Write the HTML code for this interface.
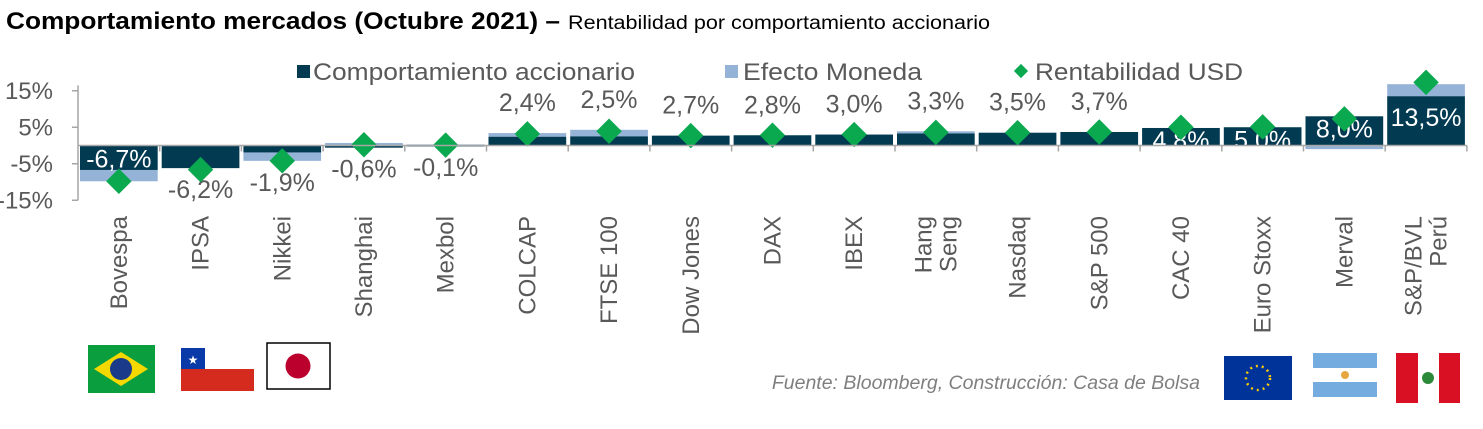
<!DOCTYPE html>
<html><head><meta charset="utf-8"><style>
body{margin:0;background:#fff;width:1483px;height:424px;overflow:hidden;font-family:"Liberation Sans",sans-serif}
</style></head><body>
<svg width="1483" height="424" xmlns="http://www.w3.org/2000/svg" font-family="Liberation Sans, sans-serif">
<text x="6" y="29" font-size="24" font-weight="bold" fill="#000" textLength="554" lengthAdjust="spacingAndGlyphs">Comportamiento mercados (Octubre 2021) –</text>
<text x="568" y="29" font-size="19" fill="#000" textLength="422" lengthAdjust="spacingAndGlyphs">Rentabilidad por comportamiento accionario</text>
<g>
<rect x="297" y="65" width="13" height="13" fill="#023a52"/>
<text x="313" y="80" font-size="24" fill="#595959" textLength="322" lengthAdjust="spacingAndGlyphs">Comportamiento accionario</text>
<rect x="725" y="65" width="13" height="13" fill="#95b3d7"/>
<text x="743" y="80" font-size="24" fill="#595959" textLength="179" lengthAdjust="spacingAndGlyphs">Efecto Moneda</text>
<rect x="1016" y="66" width="10" height="10" fill="#0aa84f" transform="rotate(45 1021 71)"/>
<text x="1035" y="80" font-size="24" fill="#595959" textLength="208" lengthAdjust="spacingAndGlyphs">Rentabilidad USD</text>
</g>
<g id="plot"></g>
<text x="1200" y="389" font-size="19.5" font-style="italic" fill="#7f7f7f" text-anchor="end">Fuente: Bloomberg, Construcción: Casa de Bolsa</text>
<g><rect x="88" y="345" width="67" height="48" fill="#0a9e3f"/><polygon points="94,369 121,352 148,369 121,386" fill="#f5d800"/><circle cx="121" cy="369" r="11" fill="#1b3a8a"/></g>
<g><rect x="181" y="348" width="73" height="21" fill="#fff"/><rect x="181" y="348" width="24" height="21" fill="#0a39a8"/><text x="193" y="364" font-size="12" fill="#fff" text-anchor="middle">★</text><rect x="181" y="369" width="73" height="22" fill="#d52b1e"/></g>
<g><rect x="267" y="343" width="63" height="46" fill="#fff" stroke="#000" stroke-width="1.5"/><circle cx="298" cy="366" r="12.5" fill="#bc002d"/></g>
<g><rect x="1224" y="356" width="68" height="44" fill="#003399"/><circle cx="1258" cy="378" r="12" fill="none" stroke="#ffcc00" stroke-width="2.5" stroke-dasharray="2 4"/></g>
<g><rect x="1313" y="353" width="64" height="15" fill="#74acdf"/><rect x="1313" y="368" width="64" height="14" fill="#fff"/><circle cx="1345" cy="375" r="4" fill="#e8a640"/><rect x="1313" y="382" width="64" height="15" fill="#74acdf"/></g>
<g><rect x="1396" y="353" width="22" height="50" fill="#d91023"/><rect x="1418" y="353" width="21" height="50" fill="#fff"/><rect x="1439" y="353" width="21" height="50" fill="#d91023"/><circle cx="1428" cy="378" r="6" fill="#2a8a3a"/></g>
</svg>
<script>
const categories=["Bovespa","IPSA","Nikkei","Shanghai","Mexbol","COLCAP","FTSE 100","Dow Jones","DAX","IBEX","Hang|Seng","Nasdaq","S&P 500","CAC 40","Euro Stoxx","Merval","S&P/BVL|Perú"];
const accionario=[-6.7,-6.2,-1.9,-0.6,-0.1,2.4,2.5,2.7,2.8,3.0,3.3,3.5,3.7,4.8,5.0,8.0,13.5];
const moneda=[-3.1,0,-2.3,0.7,0.3,1.0,1.8,0,0,0,0.6,0,0,0,0,-1.0,3.3];
const usd=[-9.8,-6.6,-4.2,0.2,0.1,3.2,3.9,2.7,2.8,3.0,3.6,3.5,3.7,5.0,5.1,7.3,17.3];
const labels=["-6,7%","-6,2%","-1,9%","-0,6%","-0,1%","2,4%","2,5%","2,7%","2,8%","3,0%","3,3%","3,5%","3,7%","4,8%","5,0%","8,0%","13,5%"];
const yTicks=[15,5,-5,-15];
const NS="http://www.w3.org/2000/svg";
const g=document.getElementById('plot');
const x0=78,bw=81.7,zeroY=145.5,k=3.65;
const y=v=>zeroY-v*k;
const xc=i=>x0+bw*(i+0.5);
function mk(t,a){const e=document.createElementNS(NS,t);for(const n in a)e.setAttribute(n,a[n]);g.appendChild(e);return e;}
let ax=mk('line',{x1:x0,y1:y(16.5),x2:x0,y2:y(-15),stroke:'#a6a6a6','stroke-width':1.5});


yTicks.forEach(t=>{
 let l=mk('line',{x1:x0-6,y1:y(t),x2:x0,y2:y(t),stroke:'#a6a6a6','stroke-width':1.5});
 
 
 let tx=mk('text',{x:x0-25,y:y(t)+8,'font-size':24,fill:'#595959','text-anchor':'end'});
 tx.textContent=t+'%';
 
 
});
categories.forEach((c,i)=>{
 const a=accionario[i],m=moneda[i],u=usd[i];
 const bx=x0+bw*i+2,w=bw-4;
 let mb=(m>=0)===(a>=0)?a:0;
 let r2=mk('rect',{x:bx,y:Math.min(y(mb),y(mb+m)),width:w,height:Math.max(Math.abs(m*k),0.1),fill:'#95b3d7'});
 
 
 let r=mk('rect',{x:bx,y:Math.min(y(0),y(a)),width:w,height:Math.max(Math.abs(a*k),1),fill:'#023a52'});
 
 
 let tk=mk('line',{x1:x0+bw*(i+1),y1:zeroY,x2:x0+bw*(i+1),y2:zeroY+6,stroke:'#a6a6a6','stroke-width':1.5});
 
 
 const inside=(i===0||a>=4.5);
 let ly,fill='#595959';
 if(inside){fill='#fff';ly=a<0?y(0)+22:(a>10?y(a)+30:y(a)+21);}
 else if(a<0){ly=Math.max(y(a),y(mb+m))+30;}
 else{ly=Math.min(y(a),y(mb+m))-22;}
 let lt=mk('text',{x:xc(i),y:ly,'font-size':25,fill:fill,'text-anchor':'middle'});
 lt.textContent=labels[i];
 
 
 let d=mk('rect',{x:xc(i)-9,y:y(u)-9,width:18,height:18,fill:'#0aa84f',transform:`rotate(45 ${xc(i)} ${y(u)})`});
 
 
 const parts=c.split('|');
 parts.forEach((p,j)=>{
  const off=(j-(parts.length-1)/2)*25;
  let ct=mk('text',{x:0,y:0,'font-size':24,fill:'#595959','text-anchor':'end',transform:`translate(${xc(i)+8+off},216) rotate(-90)`});
  ct.textContent=p;
  
  
 });
});
let zl=mk('line',{x1:x0,y1:zeroY,x2:x0+bw*17,y2:zeroY,stroke:'#a6a6a6','stroke-width':1.5});


</script>
</body></html>
